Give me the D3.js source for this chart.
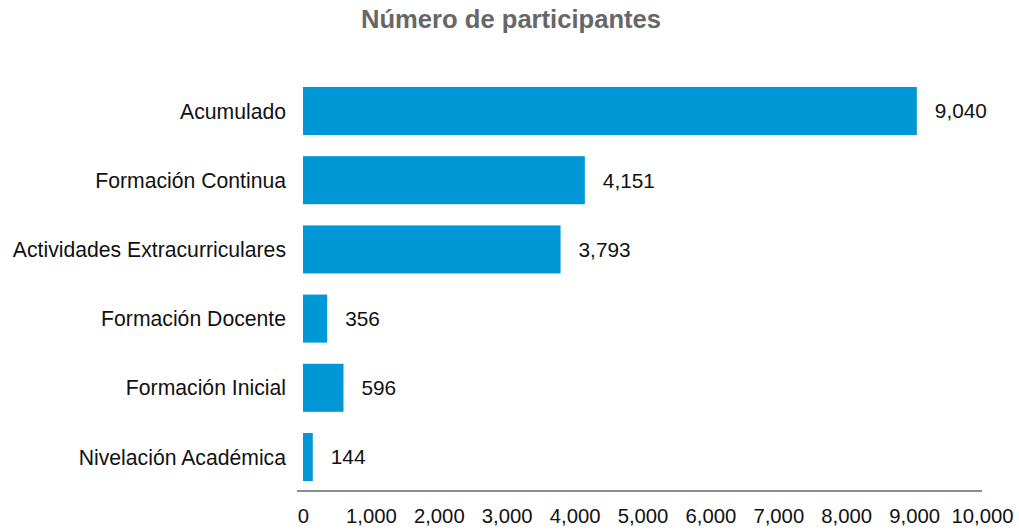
<!DOCTYPE html>
<html>
<head>
<meta charset="utf-8">
<script src="https://cdn.jsdelivr.net/npm/d3@7"></script>
<style>
  body { margin: 0; background: #fff; }
  svg { display: block; font-family: "Liberation Sans", Arial, Helvetica, sans-serif; }
</style>
</head>
<body>
<div id="chart"></div>
<script>
const categories = [
  "Acumulado",
  "Formación Continua",
  "Actividades Extracurriculares",
  "Formación Docente",
  "Formación Inicial",
  "Nivelación Académica"
]
const values = [9040, 4151, 3793, 356, 596, 144]
const ticks = [0, 1000, 2000, 3000, 4000, 5000, 6000, 7000, 8000, 9000, 10000]

const width = 1019
const height = 531
const fmt = d3.format(",")

const svg = d3.select("#chart")
  .append("svg")
  .attr("width", width)
  .attr("height", height)

svg.append("text")
  .attr("x", 511)
  .attr("y", 28)
  .attr("text-anchor", "middle")
  .attr("font-size", "25.6px")
  .attr("font-weight", "bold")
  .attr("fill", "#676767")
  .text("Número de participantes")

const x = d3.scaleLinear().domain([0, 10000]).range([303, 982])
const y = d3.scaleBand()
  .domain(categories)
  .range([76.4, 491.6])
  .paddingInner(0.306)
  .paddingOuter(0.153)

const data = categories.map((c, i) => ({ name: c, value: values[i] }))

svg.append("g")
  .selectAll("rect")
  .data(data)
  .enter()
  .append("rect")
  .attr("x", x(0))
  .attr("y", (d) => y(d.name))
  .attr("width", (d) => x(d.value) - x(0))
  .attr("height", y.bandwidth())
  .attr("fill", "#0097d7")

// category labels
svg.append("g")
  .selectAll("text")
  .data(data)
  .enter()
  .append("text")
  .attr("x", 286)
  .attr("y", (d) => y(d.name) + y.bandwidth() / 2)
  .attr("dy", "0.36em")
  .attr("text-anchor", "end")
  .attr("font-size", "21.2px")
  .attr("fill", "#111")
  .text((d) => d.name)

// value labels
svg.append("g")
  .selectAll("text")
  .data(data)
  .enter()
  .append("text")
  .attr("x", (d) => x(d.value) + 18)
  .attr("y", (d) => y(d.name) + y.bandwidth() / 2)
  .attr("dy", "0.36em")
  .attr("font-size", "20.8px")
  .attr("fill", "#111")
  .text((d) => fmt(d.value))

// x axis
const axis = svg.append("g")
  .attr("transform", "translate(0,491)")
  .call(d3.axisBottom(x).tickValues(ticks).tickFormat(fmt).tickSize(0).tickPadding(18))

axis.select(".domain")
  .attr("d", "M297,0H982")
  .attr("stroke", "#8c8c8c")
  .attr("stroke-width", 2)

axis.selectAll(".tick text")
  .attr("font-size", "20.3px")
  .attr("font-family", "Liberation Sans, Arial, sans-serif")
  .attr("fill", "#111")
</script>
</body>
</html>
